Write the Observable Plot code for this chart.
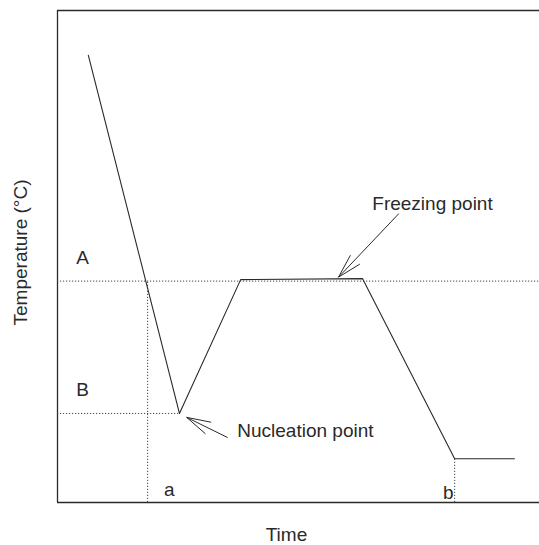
<!DOCTYPE html>
<html><head><meta charset="utf-8">
<script src="https://cdn.jsdelivr.net/npm/d3@7"></script>
<script src="https://cdn.jsdelivr.net/npm/@observablehq/plot@0.6"></script>
<style>html,body{margin:0;padding:0;background:#fff} svg{display:block}</style>
</head><body><div id="chart"></div>
<script>
// Cooling curve (arbitrary units: time 0–100, temperature 0–100)
const time        = [6.4, 25.3, 38.0, 63.3, 82.4, 94.8];
const temperature = [90.9, 18.1, 45.3, 45.5, 8.9, 8.9];

// reference levels (dotted)
const levelNames = ["A", "B"];
const levelTemps = [45.0, 18.1];
const levelEnds  = [100, 25.3];
// reference times (dotted)
const markNames = ["a", "b"];
const markTimes = [18.7, 82.4];
const markTops  = [45.0, 8.9];

// annotations
const annotationTexts = ["Freezing point", "Nucleation point"];
const arrowTip  = [[58.3, 45.8], [26.8, 17.3]];
const arrowTail = [[70.8, 58.7], [35.3, 13.2]];

const W = 539, H = 545, mL = 57, mR = 0, mT = 10, mB = 43;
const kx = (W - mL - mR) / 100, ky = (H - mT - mB) / 100;

const levels = levelNames.map((n, i) => ({name: n, t: levelTemps[i], end: levelEnds[i]}));
const marks = markNames.map((n, i) => ({name: n, x: markTimes[i], top: markTops[i]}));
const curve = time.map((t, i) => ({t, T: temperature[i]}));

// arrows: shaft + two barbs computed in screen space
const segs = [];
arrowTip.forEach((tip, i) => {
  const tail = arrowTail[i];
  segs.push({x1: tip[0], y1: tip[1], x2: tail[0], y2: tail[1]});
  const th = Math.atan2((tail[0] - tip[0]) * kx, (tail[1] - tip[1]) * ky);
  for (const s of [-1, 1]) {
    const a = th + s * 15 * Math.PI / 180, L = 25;
    segs.push({x1: tip[0], y1: tip[1], x2: tip[0] + L * Math.sin(a) / kx, y2: tip[1] + L * Math.cos(a) / ky});
  }
});

const font = "Liberation Sans, Arial, Helvetica, sans-serif";
const ink = "#2a2a2a";

const plot = Plot.plot({
  width: W, height: H,
  marginLeft: mL, marginRight: mR, marginTop: mT, marginBottom: mB,
  style: {fontFamily: font, background: "#fff"},
  x: {domain: [0, 100], axis: null},
  y: {domain: [0, 100], axis: null},
  marks: [
    // frame (left, top, bottom)
    Plot.ruleX([0], {stroke: ink, strokeWidth: 1.3}),
    Plot.ruleY([0, 100], {stroke: ink, strokeWidth: 1.3}),
    // dotted guides
    Plot.ruleY(levels, {y: "t", x1: 0, x2: "end", stroke: "#444", strokeDasharray: "1.2,1.8", strokeWidth: 1}),
    Plot.ruleX(marks, {x: "x", y1: 0, y2: "top", stroke: "#444", strokeDasharray: "1.2,1.8", strokeWidth: 1}),
    // cooling curve
    Plot.line(curve, {x: "t", y: "T", stroke: ink, strokeWidth: 1.1}),
    // arrows
    Plot.link(segs, {x1: "x1", y1: "y1", x2: "x2", y2: "y2", stroke: ink, strokeWidth: 1}),
    // labels
    Plot.text(levels, {x: 5.2, y: d => d.t + 4.8, text: "name", fontSize: 19, fill: ink}),
    Plot.text(marks, {x: (d, i) => i === 0 ? 23.2 : 81.1, y: (d, i) => i === 0 ? 2.6 : 2.0, text: "name", fontSize: 19, fill: ink}),
    Plot.text([annotationTexts[0]], {x: 77.8, y: 60.6, text: d => d, fontSize: 19, fill: ink}),
    Plot.text([annotationTexts[1]], {x: 37.3, y: 14.6, text: d => d, fontSize: 19, fill: ink, textAnchor: "start"}),
    // axis titles
    Plot.text(["Temperature (°C)"], {frameAnchor: "left", textAnchor: "middle", dx: -37, dy: -4, rotate: -90, text: d => d, fontSize: 19, fill: ink}),
    Plot.text(["Time"], {x: 47.5, frameAnchor: "bottom", dy: 38, text: d => d, fontSize: 19, fill: ink})
  ]
});
document.getElementById("chart").append(plot);
</script>
</body></html>
